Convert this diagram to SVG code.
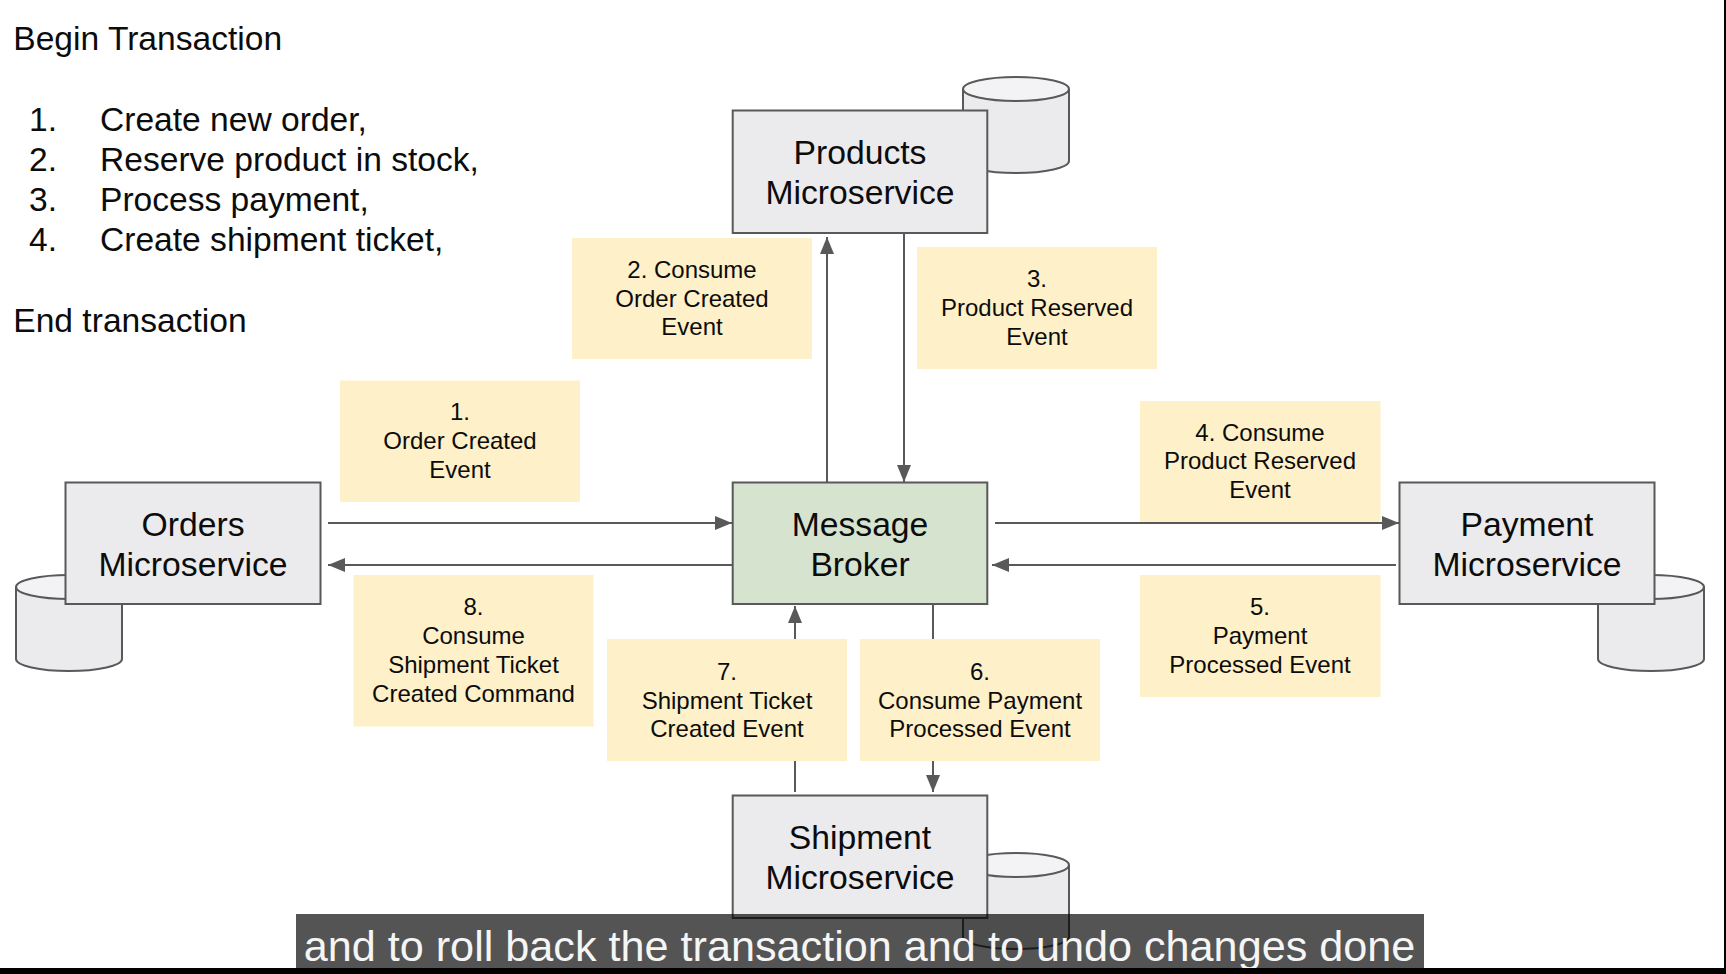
<svg xmlns="http://www.w3.org/2000/svg" width="1726" height="974" viewBox="0 0 1726 974">
<style>
text{font-family:"Liberation Sans",Arial,sans-serif;fill:#0c0c0c}
.box{fill:#ebeaed;stroke:#595959;stroke-width:2}
.broker{fill:#d5e3cf;stroke:#595959;stroke-width:2}
.note{fill:#fef0c8}
.cyl{fill:#ebeaed;stroke:#595959;stroke-width:2}
.cap{fill:#f3f2f5;stroke:#595959;stroke-width:2}
.t{font-size:33.7px;text-anchor:middle}
.n{font-size:24px;text-anchor:middle}
.l{font-size:33.6px}
.c{stroke:#595959;stroke-width:2;fill:none}
</style>
<defs>
<marker id="a" markerUnits="userSpaceOnUse" markerWidth="17" markerHeight="14" refX="17" refY="7" orient="auto"><path d="M0 0L17 7L0 14Z" fill="#595959"/></marker>
<g id="db"><path class="cyl" d="M0 12V84C0 90.500 23.700 96 53 96S106 90.500 106 84V12"/><ellipse class="cap" cx="53" cy="12" rx="53" ry="12"/></g>
</defs>
<rect width="1726" height="974" fill="#fff"/>
<g id="intro">
<text class="l" x="13.300" y="50">Begin Transaction</text>
<text class="l" x="29" y="130.500">1.</text><text class="l" x="100" y="130.500">Create new order,</text>
<text class="l" x="29" y="170.500">2.</text><text class="l" x="100" y="170.500">Reserve product in stock,</text>
<text class="l" x="29" y="211">3.</text><text class="l" x="100" y="211">Process payment,</text>
<text class="l" x="29" y="251">4.</text><text class="l" x="100" y="251">Create shipment ticket,</text>
<text class="l" x="13.300" y="332">End transaction</text>
</g>
<g id="connectors">
<path class="c" marker-end="url(#a)" d="M827 482V237"/>
<path class="c" marker-end="url(#a)" d="M904 233V482"/>
<path class="c" marker-end="url(#a)" d="M328 523H732"/>
<path class="c" marker-end="url(#a)" d="M732 565H328"/>
<path class="c" marker-end="url(#a)" d="M995 523H1399"/>
<path class="c" marker-end="url(#a)" d="M1396 565H992"/>
<path class="c" marker-end="url(#a)" d="M795 792V606"/>
<path class="c" marker-end="url(#a)" d="M933 604V792"/>
</g>
<g id="products-db"><use href="#db" x="963" y="77"/></g>
<g id="orders-db"><use href="#db" x="16" y="575"/></g>
<g id="payment-db"><use href="#db" x="1598" y="575"/></g>
<g id="shipment-db"><use href="#db" x="963" y="853"/></g>
<g id="products"><rect class="box" x="732.700" y="110.500" width="254.600" height="122.500"/><text class="t" x="860" y="164">Products</text><text class="t" x="860" y="204">Microservice</text></g>
<g id="orders"><rect class="box" x="65.500" y="482.500" width="255" height="121.500"/><text class="t" x="193" y="536">Orders</text><text class="t" x="193" y="576">Microservice</text></g>
<g id="broker"><rect class="broker" x="732.700" y="482.500" width="254.600" height="121.500"/><text class="t" x="860" y="536">Message</text><text class="t" x="860" y="576">Broker</text></g>
<g id="payment"><rect class="box" x="1399.500" y="482.500" width="255" height="121.500"/><text class="t" x="1527" y="536">Payment</text><text class="t" x="1527" y="576">Microservice</text></g>
<g id="shipment"><rect class="box" x="732.700" y="795.500" width="254.600" height="122.500"/><text class="t" x="860" y="849">Shipment</text><text class="t" x="860" y="889">Microservice</text></g>
<g id="note1"><rect class="note" x="340" y="380.500" width="240" height="121.500"/><text class="n" x="460" y="420">1.</text><text class="n" x="460" y="449">Order Created</text><text class="n" x="460" y="478">Event</text></g>
<g id="note2"><rect class="note" x="572" y="238" width="240" height="121"/><text class="n" x="692" y="278">2. Consume</text><text class="n" x="692" y="307">Order Created</text><text class="n" x="692" y="335">Event</text></g>
<g id="note3"><rect class="note" x="917" y="247" width="240" height="122"/><text class="n" x="1037" y="287">3.</text><text class="n" x="1037" y="316">Product Reserved</text><text class="n" x="1037" y="345">Event</text></g>
<g id="note4"><rect class="note" x="1140" y="401" width="240.500" height="121"/><text class="n" x="1260" y="441">4. Consume</text><text class="n" x="1260" y="469">Product Reserved</text><text class="n" x="1260" y="498">Event</text></g>
<g id="note5"><rect class="note" x="1140" y="575" width="240.500" height="122"/><text class="n" x="1260" y="615">5.</text><text class="n" x="1260" y="644">Payment</text><text class="n" x="1260" y="673">Processed Event</text></g>
<g id="note6"><rect class="note" x="860" y="639" width="240" height="122"/><text class="n" x="980" y="680">6.</text><text class="n" x="980" y="709">Consume Payment</text><text class="n" x="980" y="737">Processed Event</text></g>
<g id="note7"><rect class="note" x="607" y="639" width="240" height="122"/><text class="n" x="727" y="680">7.</text><text class="n" x="727" y="709">Shipment Ticket</text><text class="n" x="727" y="737">Created Event</text></g>
<g id="note8"><rect class="note" x="353.500" y="575" width="240" height="151.500"/><text class="n" x="473.500" y="615">8.</text><text class="n" x="473.500" y="644">Consume</text><text class="n" x="473.500" y="673">Shipment Ticket</text><text class="n" x="473.500" y="702">Created Command</text></g>
<g id="caption"><rect x="296" y="914" width="1128" height="54" fill="#000" opacity=".67"/><text x="859.500" y="961" text-anchor="middle" style="font-size:43.200px;fill:#f5f5f5">and to roll back the transaction and to undo changes done</text></g>
<rect x="0" y="968" width="1726" height="6" fill="#000"/>
<rect x="1724" y="0" width="2" height="974" fill="#000"/>
</svg>
